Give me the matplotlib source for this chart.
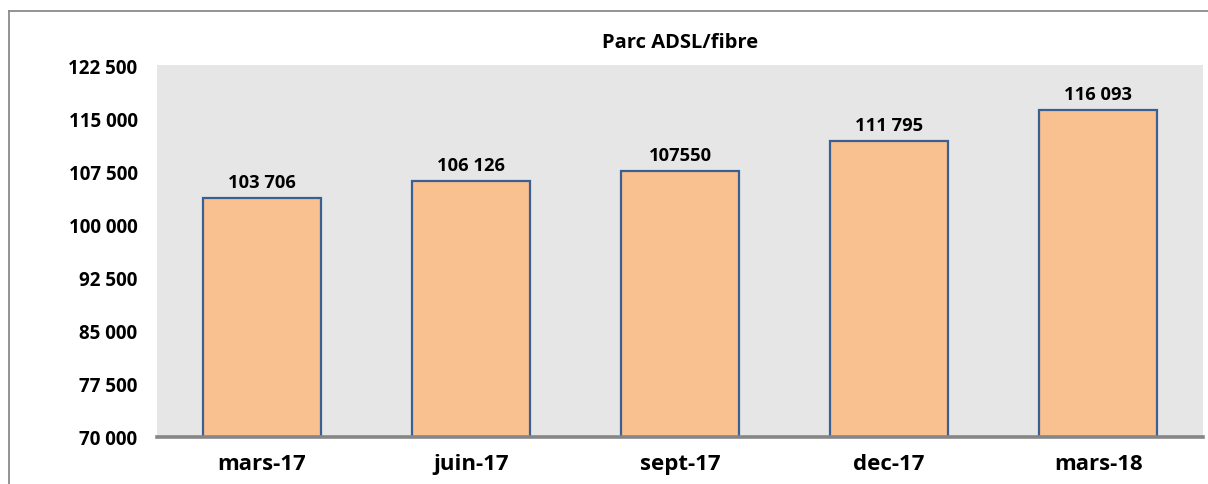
import matplotlib.pyplot as plt
from matplotlib.lines import Line2D
from matplotlib.ticker import FuncFormatter

plt.rcParams['font.family'] = ['Open Sans', 'DejaVu Sans']
plt.rcParams['font.weight'] = 'bold'

# Data
periods = ['mars-17', 'juin-17', 'sept-17', 'dec-17', 'mars-18']
parc = [103706, 106126, 107550, 111795, 116093]
value_labels = ['103 706', '106 126', '107550', '111 795', '116 093']
y_ticks = [70000, 77500, 85000, 92500, 100000, 107500, 115000, 122500]

W, H = 1208, 485
fig = plt.figure(figsize=(W / 100, H / 100), dpi=100)

# plot area in pixels: x 157..1203, y 66..438
ax = fig.add_axes([157 / W, (H - 438) / H, 1046 / W, 372 / H])
ax.set_facecolor('#E6E6E6')

x = range(len(periods))
bars = ax.bar(x, parc, width=0.565, color='#F9C090', edgecolor='#3A5F92',
              linewidth=1.6, zorder=3)

for b, lab in zip(bars, value_labels):
    ax.annotate(lab, (b.get_x() + b.get_width() / 2, b.get_height()),
                xytext=(0, 5), textcoords='offset points', ha='center',
                va='bottom', fontsize=13.2, fontweight='bold')

ax.set_xlim(-0.5, len(periods) - 0.5)
ax.set_ylim(y_ticks[0], y_ticks[-1])
ax.set_yticks(y_ticks)
ax.yaxis.set_major_formatter(FuncFormatter(lambda v, p: f'{int(v):,}'.replace(',', ' ')))
ax.set_xticks(list(x))
ax.set_xticklabels(periods)

ax.tick_params(axis='y', length=0, pad=14, labelsize=13.5)
ax.tick_params(axis='x', length=0, pad=11.5, labelsize=16)

for s in ['top', 'right', 'left']:
    ax.spines[s].set_visible(False)
ax.spines['bottom'].set_color('#868686')
ax.spines['bottom'].set_linewidth(2.6)
ax.spines['bottom'].set_zorder(4)

ax.set_title('Parc ADSL/fibre', fontsize=14.5, fontweight='bold', pad=13)

# outer chart frame (top and left edges visible)
fig.add_artist(Line2D([9 / W, 1.0], [1 - 12 / H, 1 - 12 / H], color='#8A8A8A', lw=1.3))
fig.add_artist(Line2D([9 / W, 9 / W], [1 - 12 / H, 0], color='#8A8A8A', lw=1.3))

fig.savefig('out.png', dpi=100)
